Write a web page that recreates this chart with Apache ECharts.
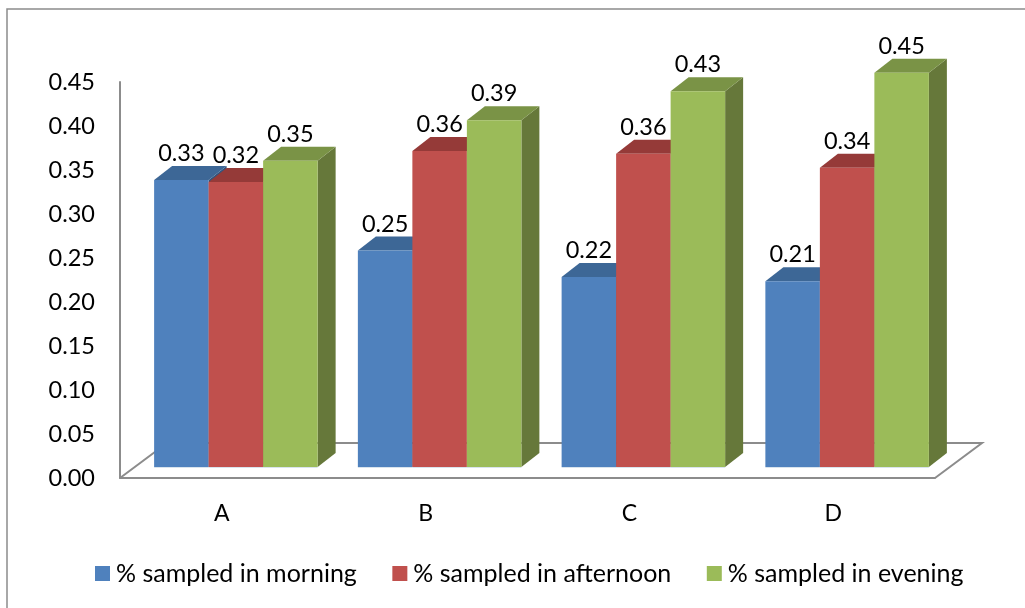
<!DOCTYPE html>
<html><head><meta charset="utf-8">
<style>html,body{margin:0;padding:0;background:#fff}#c{width:1025px;height:608px}</style>
<script src="https://cdn.jsdelivr.net/npm/echarts@6/dist/echarts.min.js"></script>
</head><body><div id="c"></div>
<script>
const categories = ['A','B','C','D'];
const yTicks = {min:0,max:0.45,interval:0.05};
const morning = [0.326,0.246,0.216,0.211];
const afternoon = [0.324,0.359,0.356,0.340];
const evening = [0.348,0.394,0.427,0.448];
const seriesNames = ['% sampled in morning','% sampled in afternoon','% sampled in evening'];
const seriesValues = [morning,afternoon,evening];
const front = ['#4F81BD','#C0504D','#9BBB59'];
const topC = ['#3D6796','#953A38','#7A9346'];
const sideC = ['#32557E','#7A2F2D','#66783A'];
const FONT='Lato';
const BW=0.2675, DX=18, DY=14, FRONT_Y=11, SHIFT=14;
const FLOOR_DX=47, FLOOR_DY=35;

const chart=echarts.init(document.getElementById('c'),null,{renderer:'canvas'});
function barItem(si){
  return function(params,api){
    const cat=api.value(0), v=api.value(1);
    const band=api.size([1,0])[0], w=band*BW;
    const t=api.coord([cat,v]), b=api.coord([cat,0]);
    const x0=t[0]+SHIFT+(si-1.5)*w, x1=x0+w, yt=t[1]-FRONT_Y, yb=b[1]-FRONT_Y;
    return {type:'group',children:[
      {type:'polygon',shape:{points:[[x1,yt],[x1+DX,yt-DY],[x1+DX,yb-DY],[x1,yb]]},style:{fill:sideC[si]}},
      {type:'polygon',shape:{points:[[x0,yt],[x0+DX,yt-DY],[x1+DX,yt-DY],[x1,yt]]},style:{fill:topC[si]}},
      {type:'rect',shape:{x:x0,y:yt,width:w,height:yb-yt},style:{fill:front[si]}},
      {type:'line',shape:{x1:x0,y1:yb+0.5,x2:x1,y2:yb+0.5},style:{stroke:'rgba(200,215,230,0.7)',lineWidth:1}}
    ]};
  };
}
const barSeries=seriesNames.map((n,si)=>({
  type:'custom',name:n,coordinateSystem:'cartesian2d',z:3,
  itemStyle:{color:front[si]},
  renderItem:barItem(si),
  encode:{x:0,y:1},
  data:seriesValues[si].map((v,i)=>[i,v])
}));
const labelData=[];
seriesValues.forEach((arr,si)=>arr.forEach((v,i)=>labelData.push([i,v,si])));
const labelSeries={
  type:'custom',name:'labels',coordinateSystem:'cartesian2d',z:6,silent:true,
  encode:{x:0,y:1},
  renderItem(params,api){
    const cat=api.value(0),v=api.value(1),si=api.value(2);
    const w=api.size([1,0])[0]*BW;
    const t=api.coord([cat,v]);
    return {type:'text',style:{
      x:t[0]+SHIFT+(si-1)*w,y:t[1]-FRONT_Y-26.5,text:v.toFixed(2),
      font:'23.5px '+FONT,fill:'#000',align:'center',verticalAlign:'middle'}};
  },
  data:labelData
};
const floorSeries={
  type:'custom',name:'floor',coordinateSystem:'cartesian2d',z:1,silent:true,
  encode:{x:0,y:1},
  renderItem(params,api){
    const cs=params.coordSys;
    const l=cs.x,r=cs.x+cs.width,b=api.coord([0,0])[1];
    return {type:'polyline',shape:{points:[[l,b],[l+FLOOR_DX,b-FLOOR_DY],[r+FLOOR_DX,b-FLOOR_DY],[r,b]]},
      style:{stroke:'#8C8C8C',lineWidth:2,fill:null}};
  },
  data:[[0,0]]
};
chart.setOption({
  animation:false,
  backgroundColor:'#fff',
  textStyle:{fontFamily:FONT},
  grid:{left:120,right:90,top:82,bottom:130,containLabel:false},
  xAxis:{type:'category',data:categories,
    axisLine:{show:true,lineStyle:{color:'#8C8C8C',width:2}},axisTick:{show:false},
    axisLabel:{color:'#000',fontSize:23,fontFamily:FONT,margin:24},splitLine:{show:false}},
  yAxis:{type:'value',min:yTicks.min,max:yTicks.max,interval:yTicks.interval,
    axisLine:{show:true,lineStyle:{color:'#8C8C8C',width:2}},axisTick:{show:false},
    axisLabel:{color:'#000',fontSize:23.5,fontFamily:FONT,margin:25,padding:[7,0,0,0],formatter:v=>v.toFixed(2)},
    splitLine:{show:false}},
  legend:{data:seriesNames,left:90,top:556,icon:'rect',itemWidth:15,itemHeight:15,itemGap:35.5,
    textStyle:{color:'#000',fontSize:25,fontFamily:FONT,padding:[0,0,0,1]}},
  graphic:[
    {type:'polyline',z:0,shape:{points:[[7,608],[7,9],[1025,9]]},style:{stroke:'#8C8C8C',lineWidth:1.5,fill:null}}
  ],
  series:[floorSeries,...barSeries,labelSeries]
});
</script></body></html>
